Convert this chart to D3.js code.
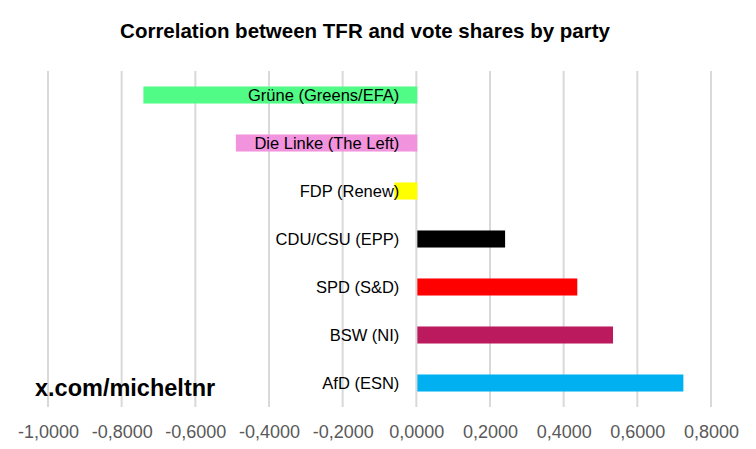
<!DOCTYPE html>
<html>
<head>
<meta charset="utf-8">
<script src="https://cdn.jsdelivr.net/npm/d3@7"></script>
<style>
  html, body { margin: 0; padding: 0; background: #fff; }
  svg { display: block; font-family: "Liberation Sans", Arial, sans-serif; }
</style>
</head>
<body>
<div id="chart"></div>
<script>
// chart data, top to bottom
const parties = [
  "Grüne (Greens/EFA)",
  "Die Linke (The Left)",
  "FDP (Renew)",
  "CDU/CSU (EPP)",
  "SPD (S&D)",
  "BSW (NI)",
  "AfD (ESN)"
];
const correlations = [-0.741, -0.490, -0.060, 0.241, 0.437, 0.534, 0.725];
const barColors = ["#50fb86", "#f293dd", "#ffff00", "#000000", "#ff0000", "#bb1b5e", "#00b0f0"];
const xTicks = [-1, -0.8, -0.6, -0.4, -0.2, 0, 0.2, 0.4, 0.6, 0.8];

const W = 756, H = 449;
const margin = { top: 71, right: 45, bottom: 42, left: 48 };
const innerW = W - margin.left - margin.right;
const innerH = H - margin.top - margin.bottom;

const svg = d3.select("#chart").append("svg")
  .attr("width", W)
  .attr("height", H);

const g = svg.append("g")
  .attr("transform", `translate(${margin.left},${margin.top})`);

const x = d3.scaleLinear().domain([-1, 0.8]).range([0, innerW]);
const y = d3.scaleBand().domain(parties).range([0, innerH])
  .paddingInner(0.645).paddingOuter(0.3225);

const locale = d3.formatLocale({ decimal: ",", thousands: ".", grouping: [3], currency: ["", "€"], minus: "-" });
const fmt = locale.format(".4f");

// vertical grid lines
g.append("g").selectAll("line")
  .data(xTicks)
  .join("line")
  .attr("x1", d => x(d)).attr("x2", d => x(d))
  .attr("y1", 0).attr("y2", innerH)
  .attr("stroke", "#d9d9d9")
  .attr("stroke-width", 2);

// bars
g.append("g").selectAll("rect")
  .data(parties)
  .join("rect")
  .attr("x", (d, i) => Math.min(x(0) + 1, x(correlations[i])))
  .attr("width", (d, i) => Math.abs(x(correlations[i]) - x(0) - 1))
  .attr("y", d => y(d))
  .attr("height", y.bandwidth())
  .attr("fill", (d, i) => barColors[i]);

// category labels next to the zero line
g.append("g").selectAll("text")
  .data(parties)
  .join("text")
  .attr("x", x(0) - 17)
  .attr("y", d => y(d) + y.bandwidth() / 2)
  .attr("dy", "0.37em")
  .attr("text-anchor", "end")
  .attr("font-size", 16.5)
  .attr("fill", "#000")
  .text(d => d);

// x axis labels
const xAxis = g.append("g")
  .attr("transform", `translate(0,${innerH})`)
  .call(d3.axisBottom(x).tickValues(xTicks).tickFormat(fmt).tickSize(0).tickPadding(18));
xAxis.select(".domain").remove();
xAxis.selectAll("text")
  .attr("font-family", "Liberation Sans, Arial, sans-serif")
  .attr("font-size", 18)
  .attr("fill", "#595959");

// title
svg.append("text")
  .attr("x", 365)
  .attr("y", 38)
  .attr("text-anchor", "middle")
  .attr("font-size", 20.5)
  .attr("font-weight", "bold")
  .attr("fill", "#000")
  .text("Correlation between TFR and vote shares by party");

// watermark
svg.append("text")
  .attr("x", 35)
  .attr("y", 396)
  .attr("font-size", 23.5)
  .attr("font-weight", "bold")
  .attr("fill", "#000")
  .text("x.com/micheltnr");
</script>
</body>
</html>
